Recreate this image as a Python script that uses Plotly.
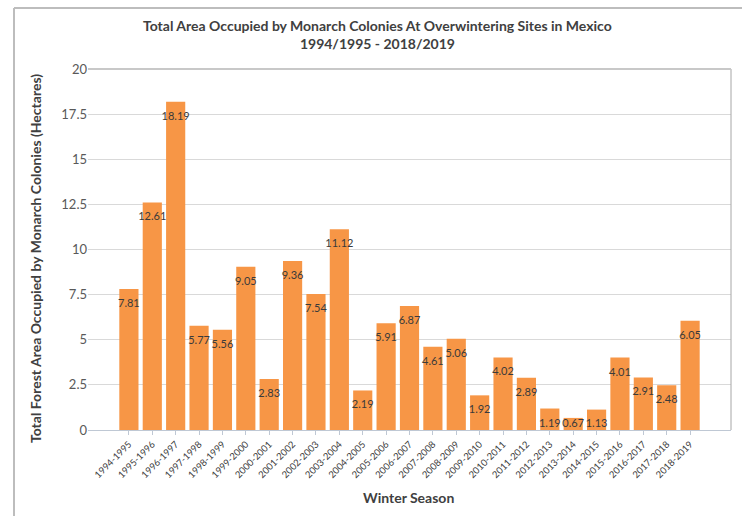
import plotly.graph_objects as go

seasons = ["1994-1995", "1995-1996", "1996-1997", "1997-1998", "1998-1999", "1999-2000",
           "2000-2001", "2001-2002", "2002-2003", "2003-2004", "2004-2005", "2005-2006",
           "2006-2007", "2007-2008", "2008-2009", "2009-2010", "2010-2011", "2011-2012",
           "2012-2013", "2013-2014", "2014-2015", "2015-2016", "2016-2017", "2017-2018",
           "2018-2019"]
hectares = [7.81, 12.61, 18.19, 5.77, 5.56, 9.05, 2.83, 9.36, 7.54, 11.12, 2.19, 5.91,
            6.87, 4.61, 5.06, 1.92, 4.02, 2.89, 1.19, 0.67, 1.13, 4.01, 2.91, 2.48, 6.05]
y_ticks = [0, 2.5, 5, 7.5, 10, 12.5, 15, 17.5, 20]
y_tick_labels = ["0", "2.5", "5", "7.5", "10", "12.5", "15", "17.5", "20"]

FONT = "Lato"
PW, PH = 643, 361  # plot area size in px


def px(xp):
    return (xp - 88) / PW


def py(yp):
    return (430 - yp) / PH


# Excel keeps "inside end" labels inside the plot: very short bars get their label lifted
label_anchor = [max(v, 1.15) for v in hectares]

fig = go.Figure()
fig.add_trace(go.Bar(x=seasons, y=hectares, marker=dict(color="#F79646", line=dict(width=0)),
                     showlegend=False, hoverinfo="x+y"))
fig.add_trace(go.Scatter(x=seasons, y=label_anchor, mode="markers+text",
                         marker=dict(size=14, opacity=0),
                         text=[f"{v:.2f}" for v in hectares], textposition="bottom center",
                         textfont=dict(family=FONT, size=11, color="#3a3a3a"),
                         cliponaxis=False, showlegend=False, hoverinfo="skip"))

fig.update_layout(
    width=742, height=516,
    margin=dict(l=88, r=11, t=69, b=86, autoexpand=False),
    paper_bgcolor="white", plot_bgcolor="white",
    bargap=0.18,
    font=dict(family=FONT, color="#404040"),
    xaxis=dict(type="category", tickangle=-45, tickfont=dict(size=9.5, color="#404040"),
               showgrid=False, showline=True, linecolor="#BFC8D4", linewidth=1,
               ticks="outside", ticklen=4, tickcolor="#BFC8D4", automargin=False),
    yaxis=dict(range=[0, 20], tickvals=y_ticks, ticktext=y_tick_labels,
               tickfont=dict(size=13, color="#595959"), showgrid=True,
               gridcolor="#D9D9D9", gridwidth=1, zeroline=False, showline=False,
               ticks="", automargin=False),
    shapes=[
        dict(type="line", xref="paper", yref="paper", x0=1, x1=1, y0=0, y1=1,
             line=dict(color="#A6A6A6", width=1)),
        dict(type="line", xref="paper", yref="paper", x0=0, x1=1, y0=1, y1=1,
             line=dict(color="#C8C8C8", width=2)),
        # outer chart frame
        dict(type="line", xref="paper", yref="paper", x0=px(14), x1=px(14), y0=py(520), y1=py(8),
             line=dict(color="#BDBDBD", width=2)),
        dict(type="line", xref="paper", yref="paper", x0=px(14), x1=px(745), y0=py(8), y1=py(8),
             line=dict(color="#BDBDBD", width=2)),
    ],
    annotations=[
        dict(text="<b>Total Area Occupied by Monarch Colonies At Overwintering Sites in Mexico</b><br><b>1994/1995 - 2018/2019</b>",
             xref="paper", yref="paper", x=px(377), y=py(34),
             xanchor="center", yanchor="middle", showarrow=False,
             font=dict(family=FONT, size=14, color="#404040")),
        dict(text="<b>Total Forest Area Occupied by Monarch Colonies (Hectares)</b>",
             xref="paper", yref="paper", x=px(35), y=py(259),
             xanchor="center", yanchor="middle", textangle=-90, showarrow=False,
             font=dict(family=FONT, size=14, color="#404040")),
        dict(text="<b>Winter Season</b>",
             xref="paper", yref="paper", x=px(408), y=py(497),
             xanchor="center", yanchor="middle", showarrow=False,
             font=dict(family=FONT, size=14, color="#404040")),
    ],
)

fig.write_html("out.html")
